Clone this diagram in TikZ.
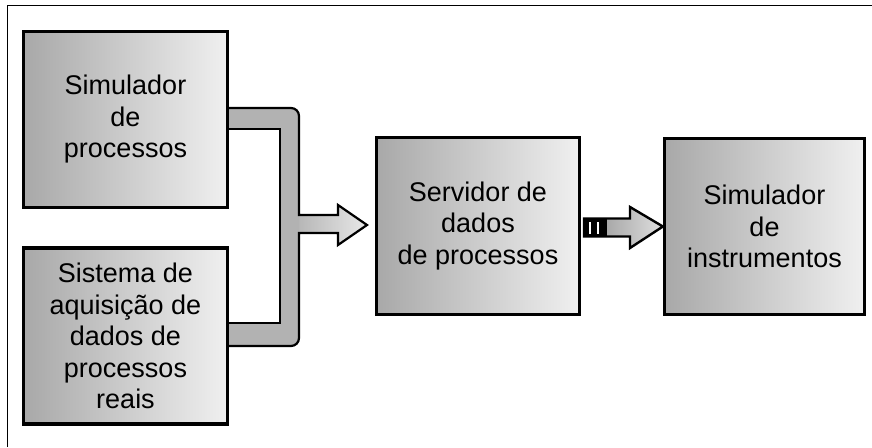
\documentclass[tikz,border=0pt]{standalone}
\usepackage{fontspec}
\setmainfont{Liberation Sans}
\begin{document}
\begin{tikzpicture}[x=1pt,y=-1pt,
  box/.style={draw=black,line width=3.2pt,left color=gray!68,right color=gray!12,
    minimum width=204pt,minimum height=176pt,inner sep=0pt,align=center,
    font=\fontsize{27}{31.5}\selectfont},
  frameline/.style={draw=black,line width=1.4pt},
  conn/.style={draw=black,line width=2.2pt,line join=miter},
  bracketfill/.style={fill=gray!60},
  lightarrow/.style={left color=gray!58,right color=gray!18},
  darkarrow/.style={left color=gray!85,right color=gray!25},
  stripe/.style={fill=black},
  gap/.style={fill=white}
]
\useasboundingbox (0,0) rectangle (872,447);
% frame
\draw[frameline] (7.5,447) -- (7.5,5.5) -- (872,5.5);

% bracket connector with arrow
\path[lightarrow] (296,215) -- (338,215) -- (338,205) -- (367,225) -- (338,245) -- (338,233) -- (296,233) -- cycle;
\path[bracketfill] (228,108) -- (291,108) arc[start angle=-90,end angle=0,radius=8]
  -- (299,338) arc[start angle=0,end angle=90,radius=8] -- (228,346) -- (228,323)
  -- (280,323) -- (280,129) -- (228,129) -- cycle;
\draw[conn] (228,108) -- (291,108) arc[start angle=-90,end angle=0,radius=8]
  -- (299,215) -- (338,215) -- (338,205) -- (367,225) -- (338,245) -- (338,233)
  -- (299,233) -- (299,338) arc[start angle=0,end angle=90,radius=8] -- (228,346);
\draw[conn,line width=1.5pt] (228,323) -- (280,323) -- (280,129) -- (228,129);

% boxes
\node[box] (b1) at (125.5,119.5) {Simulador\\de\\processos};
\node[box] (b2) at (125.5,336) {Sistema de\\aquisição de\\dados de\\processos\\reais};
\node[box,minimum width=203pt,minimum height=177pt] (b3) at (478,226) {Servidor de\\dados\\de processos};
\node[box,minimum width=200pt] (b4) at (764.5,226.5) {Simulador\\de\\instrumentos};

% striped arrow between b3 and b4
\path[darkarrow] (584,218.5) -- (630,218.5) -- (630,207) -- (b4.west) -- (630,248) -- (630,236.5) -- (584,236.5) -- cycle;
\path[stripe] (584,218.5) rectangle (607,236.5);
\path[gap] (588.5,221.5) rectangle (590.5,233.5);
\path[gap] (597,221.5) rectangle (599,233.5);
\draw[black,line width=2.4pt,line join=miter] (584,218.5) -- (630,218.5) -- (630,207) -- (b4.west) -- (630,248) -- (630,236.5) -- (584,236.5) -- cycle;
\end{tikzpicture}
\end{document}
